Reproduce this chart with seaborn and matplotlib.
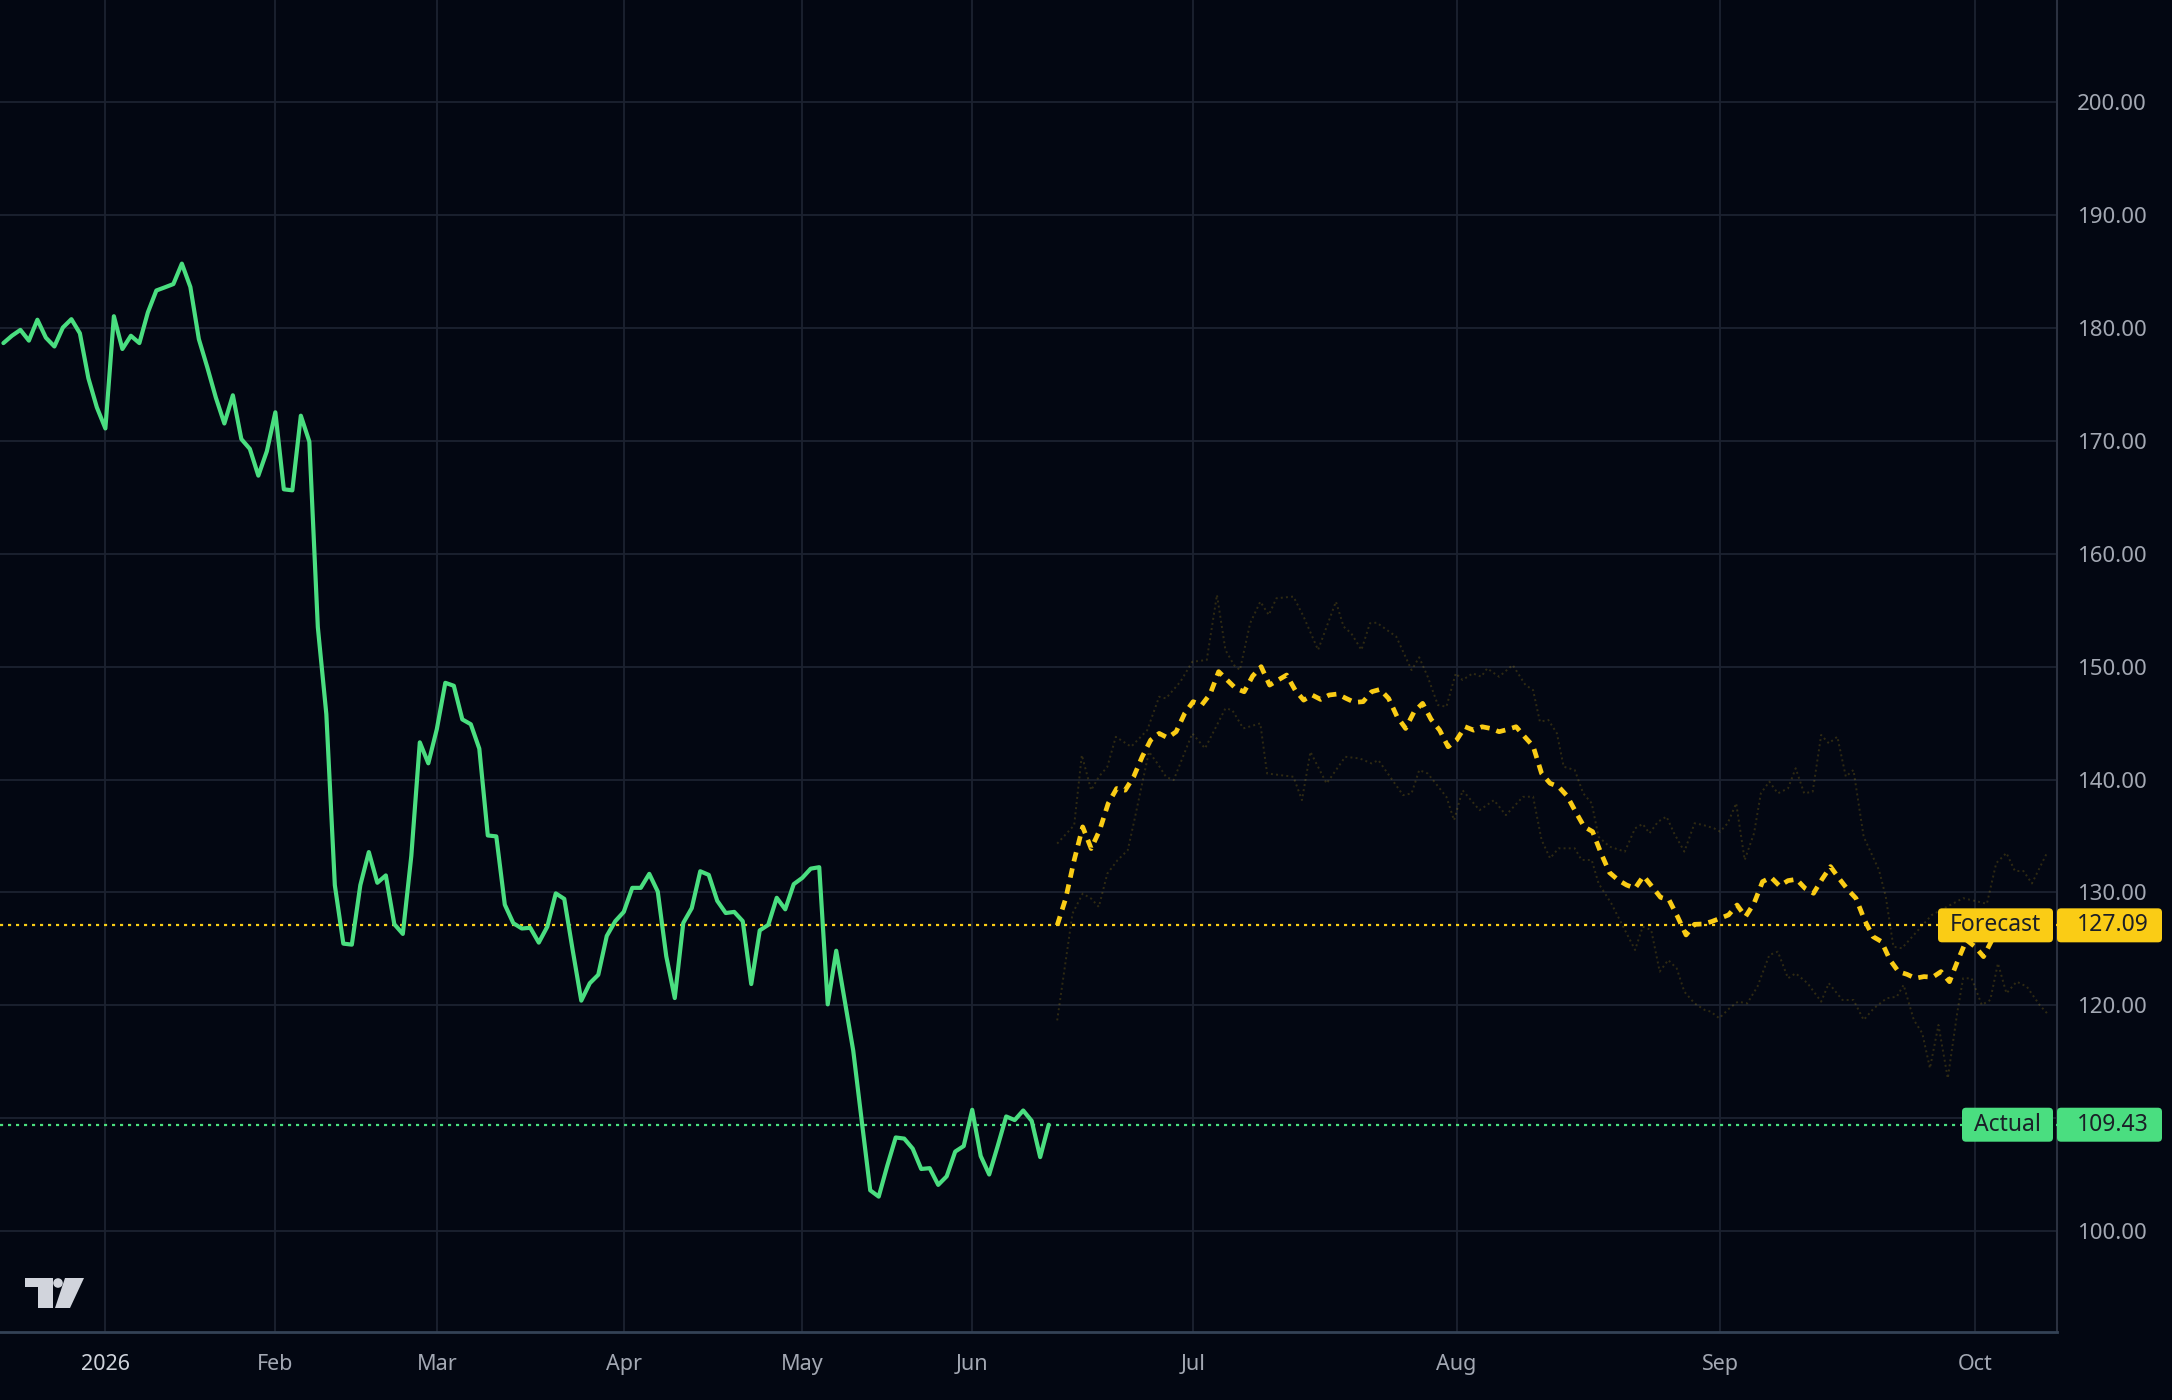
import numpy as np
import matplotlib
matplotlib.use("Agg")
import matplotlib.pyplot as plt
import seaborn as sns
from matplotlib.patches import FancyBboxPatch, Polygon, Circle
from matplotlib.transforms import IdentityTransform

# ---- data (x = bar index, 0 = first session of 2026) ----
actual_idx = np.arange(-12, 112)
actual_vals = [
    178.66, 179.31, 179.83, 178.88, 180.73, 179.14, 178.36, 180.04, 180.78, 179.53,
    175.55, 172.96, 171.10, 181.04, 178.14, 179.31, 178.66, 181.38, 183.32, 183.60,
    183.89, 185.70, 183.63, 179.01, 176.50, 173.83, 171.54, 174.04, 170.16, 169.29,
    166.92, 169.08, 172.53, 165.71, 165.62, 172.23, 169.94, 153.50, 145.80, 130.65,
    125.47, 125.38, 130.65, 133.58, 130.86, 131.51, 127.19, 126.33, 133.24, 143.30,
    141.44, 144.46, 148.57, 148.31, 145.33, 144.90, 142.74, 135.05, 134.97, 128.92,
    127.28, 126.81, 126.87, 125.56, 126.97, 129.92, 129.43, 124.84, 120.42, 121.96,
    122.71, 126.15, 127.46, 128.28, 130.41, 130.41, 131.65, 130.08, 124.35, 120.65,
    127.30, 128.61, 131.88, 131.56, 129.26, 128.18, 128.28, 127.46, 121.89, 126.64,
    127.13, 129.53, 128.51, 130.74, 131.29, 132.11, 132.24, 120.09, 124.84, 120.42,
    116.00, 109.78, 103.62, 103.06, 105.78, 108.30, 108.20, 107.31, 105.51, 105.58,
    104.10, 104.86, 107.05, 107.54, 110.75, 106.66, 105.02, 107.54, 110.16, 109.84,
    110.69, 109.77, 106.56, 109.43,
]

forecast_idx = np.arange(112, 223)
forecast_vals = [
    127.09, 129.46, 132.86, 135.81, 133.89, 135.52, 137.88, 139.21, 139.06, 140.25,
    142.02, 143.50, 144.09, 143.70, 144.24, 145.86, 146.90, 146.60, 147.58, 149.56,
    148.82, 148.08, 147.78, 149.17, 150.00, 148.37, 148.82, 149.26, 147.93, 147.04,
    147.49, 147.10, 147.49, 147.58, 147.19, 146.84, 146.90, 147.78, 147.99, 147.19,
    145.57, 144.53, 146.01, 146.75, 145.33, 144.38, 142.91, 143.50, 144.68, 144.38,
    144.68, 144.53, 144.24, 144.44, 144.68, 143.80, 142.97, 140.55, 139.67, 139.37,
    138.55, 137.16, 135.83, 135.39, 133.47, 131.76, 131.11, 130.66, 130.37, 131.46,
    130.52, 129.57, 129.34, 127.86, 126.24, 127.18, 127.21, 127.42, 127.71, 128.01,
    128.89, 127.86, 129.04, 130.96, 131.34, 130.58, 131.05, 131.17, 130.37, 129.93,
    131.17, 132.29, 131.25, 130.28, 129.48, 127.56, 126.09, 125.65, 124.02, 122.99,
    122.75, 122.40, 122.55, 122.49, 122.99, 122.10, 124.02, 125.79, 125.20, 124.32,
    125.79,
]

upper_x = [112.0, 114.0, 114.9, 116.0, 116.9, 117.9, 118.9, 120.7, 122.6, 124.0,
           124.8, 126.5, 127.9, 129.6, 130.8, 131.8, 132.8, 133.5, 134.7, 135.9,
           136.9, 137.8, 139.8, 141.0, 142.7, 144.8, 145.7, 146.6, 147.8, 148.8,
           149.6, 151.9, 153.7, 154.6, 155.6, 156.8, 157.8, 158.9, 159.7, 160.9,
           161.9, 162.6, 164.0, 165.6, 167.1, 168.0, 168.8, 169.8, 170.8, 171.6,
           172.9, 173.9, 174.9, 175.7, 177.0, 178.8, 180.0, 180.9, 181.7, 182.7,
           183.7, 184.6, 185.8, 187.0, 188.0, 189.3, 190.0, 190.9, 191.9, 192.9,
           194.0, 194.8, 195.8, 196.8, 198.0, 198.9, 199.9, 200.9, 201.9, 202.8,
           203.8, 204.8, 205.7, 206.9, 208.7, 209.5, 210.4, 211.4, 214.9, 218.6,
           221.4, 222.5, 223.7, 224.7, 225.7, 226.7, 228.4]
upper_y = [134.33, 135.96, 142.17, 139.06, 140.25, 141.13, 143.79, 142.91, 144.38, 147.34,
           147.19, 148.67, 150.44, 150.59, 156.36, 151.48, 150.15, 149.70, 153.84, 155.76,
           154.58, 156.06, 156.21, 154.43, 151.48, 155.76, 153.55, 152.96, 151.48, 153.84,
           153.90, 152.66, 149.70, 150.83, 149.11, 146.60, 146.45, 149.41, 148.82, 149.41,
           149.11, 149.85, 149.11, 150.15, 148.38, 147.93, 145.13, 145.28, 144.10, 141.14,
           140.85, 138.78, 137.90, 134.94, 134.06, 133.62, 135.68, 136.07, 135.24, 136.27,
           136.72, 135.24, 133.62, 136.13, 135.98, 135.68, 135.39, 136.13, 137.90, 132.88,
           135.24, 138.78, 139.82, 138.78, 139.22, 141.00, 138.78, 138.93, 143.95, 143.21,
           143.80, 140.26, 140.85, 134.94, 131.99, 129.63, 125.20, 125.06, 128.00, 129.50,
           129.00, 132.60, 133.50, 131.90, 131.90, 130.80, 133.40]

lower_x = [112.0, 113.8, 115.0, 116.0, 116.9, 117.9, 119.1, 120.3, 121.0, 122.0,
           122.8, 123.8, 124.8, 125.7, 127.9, 129.4, 131.8, 132.6, 133.9, 135.9,
           136.7, 139.8, 140.8, 141.8, 143.7, 145.9, 147.6, 149.0, 149.8, 150.9,
           152.7, 153.7, 154.6, 155.6, 157.8, 158.7, 159.7, 161.7, 163.4, 164.8,
           166.8, 168.0, 169.0, 170.0, 171.0, 172.9, 173.7, 174.9, 175.7, 177.2,
           178.4, 180.0, 180.9, 181.9, 182.9, 183.9, 184.9, 185.8, 187.0, 188.2,
           188.9, 189.9, 191.1, 192.1, 193.2, 194.4, 195.8, 196.8, 198.0, 198.9,
           200.3, 201.9, 202.8, 204.4, 205.7, 206.9, 208.1, 209.6, 210.8, 211.6,
           212.8, 213.8, 214.7, 215.7, 216.8, 217.9, 218.6, 219.6, 220.8, 221.8,
           222.7, 223.7, 224.9, 226.1, 227.6, 228.6]
lower_y = [118.67, 128.13, 129.90, 129.46, 128.72, 131.67, 132.86, 133.74, 136.11, 139.65,
           142.46, 141.43, 140.25, 139.95, 144.09, 142.76, 146.31, 146.16, 144.53, 144.98,
           140.54, 140.25, 138.18, 142.46, 139.65, 142.02, 141.87, 141.43, 141.72, 140.54,
           138.62, 138.77, 140.84, 140.54, 138.47, 136.40, 139.06, 137.29, 138.18, 136.85,
           138.47, 138.49, 134.65, 133.03, 133.91, 133.91, 132.88, 132.88, 130.81, 129.04,
           127.27, 124.91, 126.97, 126.68, 122.99, 124.02, 123.28, 121.21, 120.18, 119.59,
           119.45, 118.86, 119.74, 120.33, 120.18, 121.66, 124.46, 124.76, 122.40, 122.84,
           121.96, 120.33, 121.96, 120.48, 120.48, 118.71, 119.74, 120.63, 120.77, 121.81,
           118.71, 117.53, 114.43, 118.27, 113.54, 119.30, 122.40, 122.40, 120.04, 120.48,
           123.73, 121.07, 122.10, 121.66, 120.04, 119.20]

month_idx = [0, 20, 39, 61, 82, 102, 128, 159, 190, 220]
month_labels = ["2026", "Feb", "Mar", "Apr", "May", "Jun", "Jul", "Aug", "Sep", "Oct"]
price_ticks = list(range(100, 201, 10))
forecast_last = 127.09
actual_last = 109.43

# ---- style ----
BG = "#030712"
GRID = "#1c2230"
GREEN = "#4ade80"
YELLOW = "#facc15"
TEXT = "#a3a8b3"
W, H = 2172, 1400

sns.set_theme(style="dark")
plt.rcParams["font.family"] = ["Noto Sans", "DejaVu Sans"]

fig = plt.figure(figsize=(W / 100, H / 100), dpi=100, facecolor=BG)
ax = fig.add_axes([0, 68 / H, 2057 / W, 1332 / H])
ax.set_facecolor(BG)

# bands, forecast, actual
sns.lineplot(x=upper_x, y=upper_y, ax=ax, color=YELLOW, alpha=0.18, lw=1.4,
             linestyle=":", sort=False, zorder=2)
sns.lineplot(x=lower_x, y=lower_y, ax=ax, color=YELLOW, alpha=0.18, lw=1.4,
             linestyle=":", sort=False, zorder=2)
ax.axhline(forecast_last, color=YELLOW, lw=1.6, ls=(0, (1.4, 2.2)), zorder=3)
ax.axhline(actual_last, color=GREEN, lw=1.6, ls=(0, (1.4, 2.2)), zorder=3)
sns.lineplot(x=forecast_idx, y=forecast_vals, ax=ax, color=YELLOW, lw=3.4,
             linestyle=(0, (2.0, 1.5)), sort=False, zorder=4)
sns.lineplot(x=actual_idx, y=actual_vals, ax=ax, color=GREEN, lw=3.0,
             sort=False, zorder=5)

ax.set_xlim(-12.4, 229.65)
ax.set_ylim(91.07, 209.05)
ax.set_xlabel("")
ax.set_ylabel("")

ax.set_xticks(month_idx)
ax.set_xticklabels(month_labels)
ax.set_yticks(price_ticks)
# the 110.00 label sits under the "Actual" value tag, as in the source chart
ax.set_yticklabels(["" if v == 110 else f"{v:.2f}" for v in price_ticks])
ax.yaxis.tick_right()
ax.grid(True, color=GRID, lw=1.3)
ax.tick_params(axis="y", length=0, pad=14.4, labelsize=16, labelcolor=TEXT)
ax.tick_params(axis="x", length=0, pad=15.5, labelsize=15.5, labelcolor=TEXT)
first = ax.get_xticklabels()[0]
first.set_fontweight("bold")
first.set_color("#cfd3db")

for side in ["top", "left"]:
    ax.spines[side].set_visible(False)
ax.spines["right"].set_color("#2b3140")
ax.spines["right"].set_linewidth(1.5)
ax.spines["bottom"].set_color("#344256")
ax.spines["bottom"].set_linewidth(2)


# price tags on the right
def price_tag(value, name, color, x0):
    yc = ax.transData.transform((0, value))[1]
    h = 34
    for xa, xb in [(x0, 2053), (2057, 2162)]:
        box = FancyBboxPatch((xa, yc - h / 2), xb - xa, h,
                             boxstyle="round,pad=0,rounding_size=4",
                             transform=IdentityTransform(), fc=color, ec="none",
                             zorder=10)
        fig.add_artist(box)
    fig.text((x0 + 2053) / 2 / W, yc / H, name, ha="center", va="center",
             fontsize=16.5, color="#1b1f27", zorder=11)
    fig.text(2077 / W, yc / H, f"{value:.2f}", ha="left", va="center",
             fontsize=16.5, color="#1b1f27", zorder=11)


price_tag(forecast_last, "Forecast", YELLOW, 1938)
price_tag(actual_last, "Actual", GREEN, 1962)

# small logo, bottom left
LOGO = "#d1d4dc"


def px(x, y):
    return (x, H - y)


fig.add_artist(Polygon([px(24.5, 1278), px(52.5, 1278), px(52.5, 1308), px(38, 1308),
                        px(38, 1287), px(24.5, 1287)], closed=True,
                       transform=IdentityTransform(), fc=LOGO, ec="none", zorder=10))
fig.add_artist(Circle(px(58, 1283), 4.8, transform=IdentityTransform(),
                      fc=LOGO, ec="none", zorder=10))
fig.add_artist(Polygon([px(65, 1278), px(84, 1278), px(70, 1308), px(55, 1308)],
                       closed=True, transform=IdentityTransform(), fc=LOGO,
                       ec="none", zorder=10))

fig.savefig("out.png", dpi=100, facecolor=BG)
